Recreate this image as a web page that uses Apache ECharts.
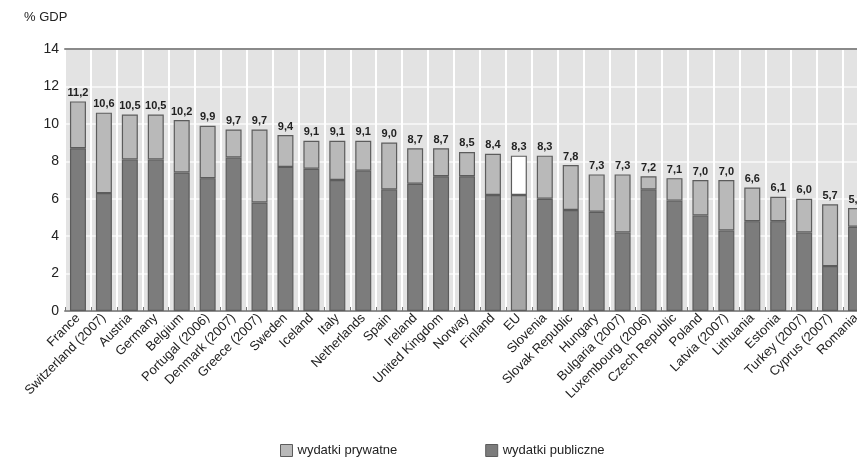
<!DOCTYPE html>
<html>
<head>
<meta charset="utf-8">
<script src="https://cdn.jsdelivr.net/npm/echarts@6/dist/echarts.min.js"></script>
<style>
  html, body { margin: 0; padding: 0; background: #fff; }
  #chart { width: 857px; height: 459px; }
</style>
</head>
<body>
<div id="chart"></div>
<script>
// Education spending as % of GDP, split into private and public shares
const countries = [
  'France', 'Switzerland (2007)', 'Austria', 'Germany', 'Belgium', 'Portugal (2006)',
  'Denmark (2007)', 'Greece (2007)', 'Sweden', 'Iceland', 'Italy', 'Netherlands',
  'Spain', 'Ireland', 'United Kingdom', 'Norway', 'Finland', 'EU', 'Slovenia',
  'Slovak Republic', 'Hungary', 'Bulgaria (2007)', 'Luxembourg (2006)', 'Czech Republic',
  'Poland', 'Latvia (2007)', 'Lithuania', 'Estonia', 'Turkey (2007)', 'Cyprus (2007)', 'Romania'
];
// total spending (label on top of each bar)
const totalValues = [
  11.2, 10.6, 10.5, 10.5, 10.2, 9.9, 9.7, 9.7, 9.4, 9.1, 9.1, 9.1, 9.0, 8.7, 8.7, 8.5,
  8.4, 8.3, 8.3, 7.8, 7.3, 7.3, 7.2, 7.1, 7.0, 7.0, 6.6, 6.1, 6.0, 5.7, 5.5
];
// public share of spending
const publicValues = [
  8.7, 6.3, 8.1, 8.1, 7.4, 7.1, 8.2, 5.8, 7.7, 7.6, 7.0, 7.5, 6.5, 6.8, 7.2, 7.2,
  6.2, 6.2, 6.0, 5.4, 5.3, 4.2, 6.5, 5.9, 5.1, 4.3, 4.8, 4.8, 4.2, 2.4, 4.5
];
const yTicks = [0, 2, 4, 6, 8, 10, 12, 14];
const seriesNames = ['wydatki prywatne', 'wydatki publiczne'];

const highlight = 'EU';
const privateValues = totalValues.map((t, i) => Math.round((t - publicValues[i]) * 10) / 10);

const FONT = '"Liberation Sans", Arial, sans-serif';
const colPrivate = '#b9b9b9';
const colPublic = '#7c7c7c';
const colBorder = '#5c5c5c';

const publicData = publicValues.map((v, i) => countries[i] === highlight
  ? { value: v, itemStyle: { color: '#a6a6a6' } } : v);
const privateData = privateValues.map((v, i) => countries[i] === highlight
  ? { value: v, itemStyle: { color: '#ffffff' } } : v);

const chart = echarts.init(document.getElementById('chart'), null, { renderer: 'canvas' });
chart.setOption({
  animation: false,
  backgroundColor: '#ffffff',
  textStyle: { fontFamily: FONT },
  graphic: [{
    type: 'text', left: 24, top: 11,
    style: { text: '% GDP', font: '13px ' + FONT, fill: '#222' }
  }],
  grid: {
    left: 65, top: 49, width: 804, height: 262,
    outerBoundsMode: 'none', containLabel: false,
    show: true, backgroundColor: '#e3e3e3', borderWidth: 0
  },
  legend: {
    data: seriesNames,
    left: 275, top: 439,
    itemWidth: 12, itemHeight: 12, itemGap: 88,
    textStyle: { fontSize: 13, color: '#222', fontFamily: FONT },
    icon: 'rect',
    itemStyle: { borderColor: colBorder, borderWidth: 1 }
  },
  xAxis: [{
    type: 'category', data: countries, position: 'bottom',
    axisLine: { lineStyle: { color: '#8f8f8f', width: 2 } },
    axisTick: { show: true, inside: true, length: 4, lineStyle: { color: '#777' } },
    axisLabel: { rotate: 45, fontSize: 13, color: '#222', margin: 5, interval: 0, fontFamily: FONT },
    splitLine: { show: true, lineStyle: { color: '#ffffff', width: 2 } }
  }, {
    type: 'category', data: countries, position: 'top',
    axisLine: { lineStyle: { color: '#8a8a8a', width: 2 } },
    axisTick: { show: false }, axisLabel: { show: false }
  }],
  yAxis: {
    type: 'value', min: yTicks[0], max: yTicks[yTicks.length - 1], interval: 2,
    axisLine: { show: false }, axisTick: { show: false },
    axisLabel: { fontSize: 14, color: '#222', margin: 6, fontFamily: FONT },
    splitLine: { show: true, lineStyle: { color: '#f4f4f4', width: 2 } }
  },
  series: [{
    name: seriesNames[1], type: 'bar', stack: 'total', data: publicData,
    barWidth: 16,
    itemStyle: { color: colPublic, borderColor: colBorder, borderWidth: 1.2 }
  }, {
    name: seriesNames[0], type: 'bar', stack: 'total', data: privateData,
    barWidth: 16,
    itemStyle: { color: colPrivate, borderColor: colBorder, borderWidth: 1.2 },
    label: {
      show: true, position: 'top', distance: 3,
      fontSize: 11, fontWeight: 'bold', color: '#222', fontFamily: FONT,
      formatter: p => totalValues[p.dataIndex].toFixed(1).replace('.', ',')
    }
  }]
});
</script>
</body>
</html>
